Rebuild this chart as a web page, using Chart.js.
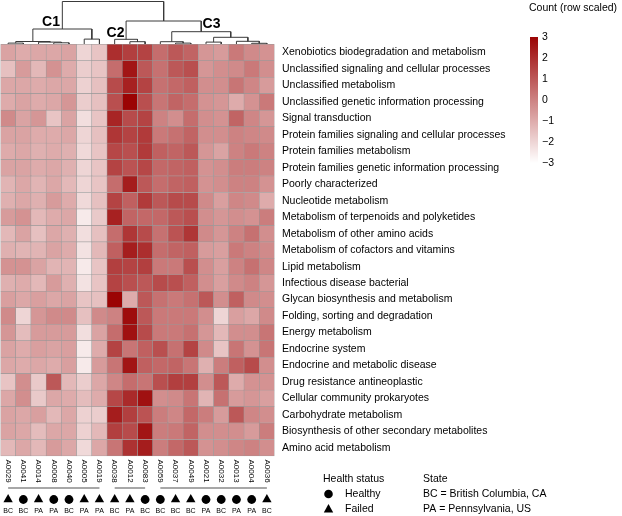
<!DOCTYPE html>
<html><head><meta charset="utf-8">
<script src="https://cdn.jsdelivr.net/npm/chart.js@4/dist/chart.umd.min.js"></script>
<style>html,body{margin:0;padding:0;background:#fff}#wrap{width:622px;height:516px;position:relative}</style>
</head><body><div id="wrap"><canvas id="c" width="622" height="516"></canvas></div>
<script>
// ---------- data ----------
const samples = ['A0029','A0041','A0014','A0008','A0040','A0005','A0019','A0038','A0012','A0083','A0059','A0037','A0049','A0021','A0032','A0013','A0004','A0036'];
const health = ['Failed','Healthy','Failed','Healthy','Healthy','Failed','Failed','Failed','Failed','Healthy','Healthy','Failed','Failed','Healthy','Healthy','Healthy','Healthy','Failed'];
const state = ['BC','BC','PA','PA','BC','PA','PA','BC','PA','BC','BC','BC','BC','PA','BC','PA','PA','BC'];
const pathways = ['Xenobiotics biodegradation and metabolism','Unclassified signaling and cellular processes','Unclassified metabolism','Unclassified genetic information processing','Signal transduction','Protein families signaling and cellular processes','Protein families metabolism','Protein families genetic information processing','Poorly characterized','Nucleotide metabolism','Metabolism of terpenoids and polyketides','Metabolism of other amino acids','Metabolism of cofactors and vitamins','Lipid metabolism','Infectious disease bacterial','Glycan biosynthesis and metabolism','Folding, sorting and degradation','Energy metabolism','Endocrine system','Endocrine and metabolic disease','Drug resistance antineoplastic','Cellular community prokaryotes','Carbohydrate metabolism','Biosynthesis of other secondary metabolites','Amino acid metabolism'];
// row-scaled counts, one list per pathway (same order), one value per sample
const scaledCounts = [
 [-0.8,-1.0,-0.9,-0.9,-0.8,-2.0,-1.6,2.0,1.6,1.5,0.5,1.0,0.7,-0.5,-0.6,0.2,-0.2,-0.4],
 [-1.5,-0.6,-1.3,-0.4,-1.0,-1.8,-1.6,0.5,2.6,1.0,0.4,1.0,1.2,-0.5,-0.3,-0.2,0.2,-0.3],
 [-0.9,-0.9,-1.0,-0.9,-0.9,-1.9,-1.5,1.3,2.3,1.5,0.4,0.6,0.8,-0.3,-0.3,0.3,-0.1,-0.6],
 [-1.0,-0.8,-1.0,-0.9,-0.5,-1.8,-1.5,1.2,3.0,1.2,0.3,0.7,0.5,-0.4,-0.5,-1.0,-0.4,0.2],
 [-0.2,-0.8,-0.5,-1.6,-0.8,-2.2,-1.6,2.2,1.3,1.5,0.0,-0.3,0.5,-0.3,-0.4,0.7,-0.1,-0.5],
 [-0.8,-0.8,-1.0,-1.0,-0.9,-2.0,-1.5,1.8,1.5,1.7,0.2,0.4,0.7,-0.3,-0.3,0.0,-0.1,-0.2],
 [-1.0,-0.9,-1.1,-1.0,-1.1,-2.1,-1.6,1.4,1.2,1.7,0.8,0.7,1.0,-0.5,-0.8,0.0,0.2,0.0],
 [-0.8,-0.8,-1.0,-0.9,-1.1,-2.0,-1.6,1.5,1.1,1.4,0.6,0.7,0.8,-0.4,-0.3,0.1,0.1,0.0],
 [-1.2,-0.9,-1.2,-0.9,-1.3,-2.0,-1.6,0.5,2.4,1.0,0.5,0.7,0.8,-0.4,-0.3,0.0,0.0,-0.4],
 [-1.1,-0.9,-1.1,-0.6,-1.0,-2.1,-1.5,1.5,0.8,1.7,1.0,1.3,1.3,-0.2,-0.7,-0.1,-0.2,-1.0],
 [-0.6,-0.4,-1.3,-1.0,-0.9,-2.5,-1.7,2.3,0.7,0.6,0.6,1.0,1.2,-0.3,-0.5,-0.3,-0.4,0.1],
 [-1.3,-0.8,-1.5,-0.9,-1.1,-2.2,-1.5,0.5,1.8,1.3,0.4,1.1,1.8,-0.2,-0.5,0.0,0.4,-0.3],
 [-1.1,-1.2,-1.2,-0.8,-1.0,-2.3,-1.3,0.8,2.4,2.0,0.5,0.7,0.8,-0.6,-0.7,0.2,0.0,-0.2],
 [-0.4,-0.4,-0.8,-1.2,-1.2,-2.5,-1.6,1.6,1.5,1.6,0.2,0.2,1.2,-0.3,-0.7,0.0,0.4,-0.1],
 [-1.1,-1.0,-1.3,-0.6,-1.1,-2.3,-1.6,1.5,1.2,1.0,1.3,1.2,0.8,-0.3,-0.7,-0.2,0.0,-0.5],
 [-0.7,-0.9,-0.7,-0.9,-0.8,-1.6,-1.5,3.0,-1.0,1.0,0.4,0.2,0.4,1.0,-0.3,0.8,-0.2,-0.3],
 [-0.2,-2.0,-0.5,-0.2,-0.2,-1.5,-0.2,0.0,2.8,1.0,0.2,0.2,0.2,-0.3,-2.0,-0.7,-0.9,-0.2],
 [-0.5,-1.4,-0.6,-0.6,-0.6,-2.2,-0.8,0.5,2.7,1.3,0.2,0.2,0.4,-0.5,-1.3,-0.3,-0.3,0.3],
 [-0.8,-1.0,-0.7,-0.8,-0.7,-2.5,-1.0,1.5,0.3,0.8,1.2,0.4,1.5,-0.2,-1.6,0.3,-0.4,0.3],
 [-0.9,-1.0,-0.9,-1.0,-0.7,-2.5,-0.6,0.3,2.6,0.8,0.6,0.7,0.3,-1.1,0.1,0.8,1.3,-0.3],
 [-1.6,-0.3,-1.7,1.0,-1.3,-1.8,-0.9,-0.1,0.5,0.3,1.2,1.6,1.6,-0.3,1.0,-1.0,-0.4,-0.4],
 [-0.9,-0.3,-1.7,-0.9,-1.0,-1.4,-1.0,1.4,2.1,2.7,-0.3,-0.2,0.3,-1.2,0.4,-0.6,-0.5,-0.7],
 [-0.8,-0.9,-0.7,-1.3,-0.9,-1.9,-1.8,2.4,1.6,1.1,0.1,-0.1,0.6,0.1,-0.6,1.0,-0.1,-0.3],
 [-0.8,-0.9,-1.4,-0.9,-0.9,-1.9,-1.3,1.6,1.3,2.6,0.1,0.2,0.7,-0.3,-0.3,-0.3,-0.6,0.1],
 [-1.3,-0.9,-1.3,-0.6,-0.9,-2.1,-0.9,0.3,1.9,2.4,0.1,0.6,1.0,-0.4,-0.3,-0.1,0.0,-0.3]
];
// column dendrogram (hclust style: negative = sample, positive = earlier merge), with merge heights
const mergeLeft   = [-1,-4,-3, 1,-6, 4,-9,-8,-12,-11,-14,-17,-16,11,10, 8, 6];
const mergeRight  = [-2,-5, 2, 3,-7, 5,-10, 7,-13, 9,-15,-18, 12,13,14,15,16];
const mergeHeight = [1.2,1.5,2.2,2.8,5.2,15.3,2.6,5.0,1.2,2.6,2.2,1.0,3.0,7.0,12.6,23.3,42.8];
const clusterNames = ['C1','C2','C3'];
const clusterFirst = [0,7,10];
const clusterLast  = [6,9,17];
const legendTicks = [3,2,1,0,-1,-2,-3];

// ---------- layout ----------
const W = 622, H = 516;
const GRID_LEFT = 0.5, GRID_RIGHT = 274.5, GRID_TOP = 44.3, GRID_BOTTOM = 456;
const nRows = pathways.length, nCols = samples.length;
const rowH = (GRID_BOTTOM - GRID_TOP) / nRows;
const FONT = '"Liberation Sans", Arial, Helvetica, sans-serif';
const yUnit = px => (px - GRID_TOP) / rowH;  // pixel -> heatmap row units
const dendroPxPerUnit = (GRID_TOP - 1.5) / Math.max(...mergeHeight);

function colorFor(v) {
  const t = (Math.max(-3, Math.min(3, v)) + 3) / 6;
  const lo = [255, 255, 255], hi = [155, 4, 4];
  const c = lo.map((l, i) => Math.round(l + (hi[i] - l) * t));
  return `rgb(${c[0]},${c[1]},${c[2]})`;
}

// ---------- datasets ----------
const cells = [];
scaledCounts.forEach((row, r) => row.forEach((v, c) => cells.push({x: c, y: [r, r + 1], v})));

const nodeX = [], nodeH = [];
const childX = id => id < 0 ? -id - 1 : nodeX[id - 1];
const childH = id => id < 0 ? 0 : nodeH[id - 1];
const dendroSets = mergeLeft.map((l, i) => {
  const r = mergeRight[i], h = mergeHeight[i];
  const xl = childX(l), xr = childX(r);
  nodeX[i] = (xl + xr) / 2; nodeH[i] = h;
  return {type: 'line', xAxisID: 'x', yAxisID: 'yd', borderColor: '#3a3a3a', borderWidth: 1,
    pointRadius: 0, tension: 0, fill: false,
    data: [{x: xl, y: childH(l)}, {x: xl, y: h}, {x: xr, y: h}, {x: xr, y: childH(r)}]};
});

const bracketSets = clusterNames.map((n, i) => ({type: 'line', xAxisID: 'x', yAxisID: 'y',
  borderColor: '#8a8a8a', borderWidth: 1.5, pointRadius: 0, fill: false,
  data: [{x: clusterFirst[i], y: yUnit(488)}, {x: clusterLast[i], y: yUnit(488)}]}));

const shapeSet = {type: 'scatter', xAxisID: 'x', yAxisID: 'y',
  data: samples.map((s, c) => ({x: c, y: yUnit(499.5)})),
  pointStyle: health.map(h => h === 'Healthy' ? 'circle' : 'triangle'),
  pointRadius: health.map(h => h === 'Healthy' ? 4.4 : 5.4),
  pointBackgroundColor: '#000', pointBorderWidth: 0, pointHoverRadius: 0};

// ---------- text plugin ----------
function text(ctx, s, x, y, font, align, base) {
  ctx.font = font; ctx.textAlign = align || 'left'; ctx.textBaseline = base || 'middle';
  ctx.fillStyle = '#000'; ctx.fillText(s, x, y);
}
const annotations = {
  id: 'annotations',
  afterDraw(chart) {
    const ctx = chart.ctx, xs = chart.scales.x, ys = chart.scales.y;
    ctx.save();
    pathways.forEach((p, r) => text(ctx, p, 282, ys.getPixelForValue(r + 0.5), '10.5px ' + FONT));
    samples.forEach((s, c) => {
      ctx.save(); ctx.translate(xs.getPixelForValue(c), 459.5); ctx.rotate(Math.PI / 2);
      text(ctx, s, 0, 0, '8px ' + FONT, 'left', 'middle'); ctx.restore();
      text(ctx, state[c], xs.getPixelForValue(c), 511, '7px ' + FONT, 'center', 'middle');
    });
    // cluster labels
    const cPos = [[51, 22], [115.5, 33], [211.5, 24]];
    clusterNames.forEach((n, i) => text(ctx, n, cPos[i][0], cPos[i][1], 'bold 14px ' + FONT, 'center', 'middle'));
    // colour key
    const kx = 530, kTop = 37, kBot = 163;
    const g = ctx.createLinearGradient(0, kTop, 0, kBot);
    for (let k = 0; k <= 12; k++) g.addColorStop(k / 12, colorFor(3 - k / 2));
    ctx.fillStyle = g; ctx.fillRect(kx, kTop, 8, kBot - kTop);
    text(ctx, 'Count (row scaled)', 529, 8, '10.5px ' + FONT);
    legendTicks.forEach(v => text(ctx, (v < 0 ? '\u2212' + (-v) : String(v)), 542,
      kTop + (3 - v) / 6 * (kBot - kTop), '10.5px ' + FONT));
    // bottom legend
    text(ctx, 'Health status', 323, 479, '10.5px ' + FONT);
    text(ctx, 'State', 423, 479, '10.5px ' + FONT);
    ctx.fillStyle = '#000';
    ctx.beginPath(); ctx.arc(328.5, 494, 4.3, 0, Math.PI * 2); ctx.fill();
    ctx.beginPath(); ctx.moveTo(328.5, 504); ctx.lineTo(333.2, 512.5); ctx.lineTo(323.8, 512.5); ctx.closePath(); ctx.fill();
    text(ctx, 'Healthy', 345, 494, '10.5px ' + FONT);
    text(ctx, 'Failed', 345, 509, '10.5px ' + FONT);
    text(ctx, 'BC = British Columbia, CA', 423, 494, '10.5px ' + FONT);
    text(ctx, 'PA = Pennsylvania, US', 423, 509, '10.5px ' + FONT);
    ctx.restore();
  }
};

// ---------- chart ----------
new Chart(document.getElementById('c'), {
  type: 'bar',
  data: {datasets: [
    {type: 'bar', xAxisID: 'x', yAxisID: 'y', data: cells,
     backgroundColor: ctx => ctx.raw ? colorFor(ctx.raw.v) : '#fff',
     borderColor: '#999999', borderWidth: 0.55, borderSkipped: false,
     barPercentage: 1, categoryPercentage: 1, grouped: false},
    ...dendroSets, ...bracketSets, shapeSet]},
  options: {
    responsive: false, animation: false, devicePixelRatio: 1,
    layout: {autoPadding: false, padding: {left: GRID_LEFT, right: W - GRID_RIGHT, top: 0, bottom: 0}},
    plugins: {legend: {display: false}, tooltip: {enabled: false}},
    events: [],
    scales: {
      x: {type: 'linear', display: false, offset: false, min: -0.5, max: nCols - 0.5},
      y: {type: 'linear', display: false, offset: false, reverse: true, min: yUnit(0), max: yUnit(H)},
      yd: {type: 'linear', display: false, offset: false, position: 'left',
           min: (GRID_TOP - H) / dendroPxPerUnit, max: GRID_TOP / dendroPxPerUnit}
    }
  },
  plugins: [annotations]
});
</script>
</body></html>
